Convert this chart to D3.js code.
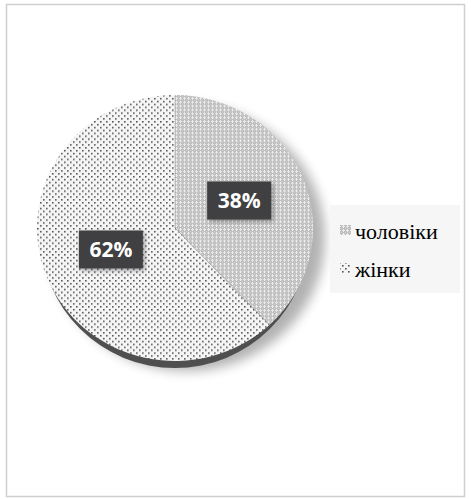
<!DOCTYPE html>
<html><head><meta charset="utf-8">
<script src="https://cdn.jsdelivr.net/npm/d3@7"></script>
<style>html,body{margin:0;padding:0;background:#fff;}svg{display:block;}</style>
</head><body>
<svg id="chart" width="471" height="499"></svg>
<script>
const categories = ["чоловіки", "жінки"];
const values = [38, 62];
const labels = ["38%", "62%"];

const svg = d3.select("#chart");
const W = 471, H = 499;
const cx = 175, cy = 228, rx = 138, ry = 133;

const defs = svg.append("defs");
// men: gray crosshatch/diamond pattern
const p1 = defs.append("pattern").attr("id","pMen").attr("patternUnits","userSpaceOnUse").attr("width",4).attr("height",4);
p1.append("rect").attr("width",4).attr("height",4).attr("fill","#bdbdbd");
p1.append("rect").attr("x",1).attr("y",0).attr("width",1).attr("height",1).attr("fill","#f2f2f2");
p1.append("rect").attr("x",0).attr("y",1).attr("width",3).attr("height",1).attr("fill","#e8e8e8");
p1.append("rect").attr("x",1).attr("y",2).attr("width",1).attr("height",1).attr("fill","#f2f2f2");
p1.append("rect").attr("x",3).attr("y",3).attr("width",1).attr("height",1).attr("fill","#d4d4d4");
// women: white with dots
const p2 = defs.append("pattern").attr("id","pWomen").attr("patternUnits","userSpaceOnUse").attr("width",6).attr("height",6);
p2.append("rect").attr("width",6).attr("height",6).attr("fill","#f5f5f5");
p2.append("rect").attr("x",0).attr("y",0).attr("width",1.6).attr("height",1.6).attr("fill","#555");
p2.append("rect").attr("x",3).attr("y",3).attr("width",1.6).attr("height",1.6).attr("fill","#555");
const f = defs.append("filter").attr("id","shadow").attr("x","-20%").attr("y","-20%").attr("width","150%").attr("height","150%");
f.append("feGaussianBlur").attr("in","SourceAlpha").attr("stdDeviation",6);
const lf = defs.append("filter").attr("id","lshadow").attr("x","-20%").attr("y","-20%").attr("width","150%").attr("height","150%");
lf.append("feDropShadow").attr("dx",2).attr("dy",2).attr("stdDeviation",2).attr("flood-color","#000").attr("flood-opacity",0.35);

// frame
svg.append("rect").attr("x",6.5).attr("y",4.5).attr("width",W-13).attr("height",H-7)
  .attr("fill","#fff").attr("stroke","#cfcfcf").attr("stroke-width",1.5);

const pie = d3.pie().sort(null).value(d => d)(values);
const arc = d3.arc().innerRadius(0).outerRadius(rx);
const labelArc = d3.arc().innerRadius(rx*0.5).outerRadius(rx*0.5);
const fills = ["url(#pMen)", "url(#pWomen)"];

// soft shadow
svg.append("ellipse").attr("cx",cx+12).attr("cy",cy+10).attr("rx",rx).attr("ry",ry)
  .attr("fill","#000").attr("opacity",0.3).attr("filter","url(#shadow)");
// 3D rim
svg.append("ellipse").attr("cx",cx).attr("cy",cy+7).attr("rx",rx-4).attr("ry",ry)
  .attr("fill","#4f4f4f");

const g = svg.append("g").attr("transform",`translate(${cx},${cy}) scale(1,${ry/rx})`);
g.selectAll("path.slice").data(pie).enter().append("path")
  .attr("class","slice").attr("d",arc).attr("fill",(d,i)=>fills[i]);
g.selectAll("path.edge").data(pie).enter().append("path")
  .attr("d",d=>{const a=d.startAngle;return `M0,0L${Math.sin(a)*rx},${-Math.cos(a)*rx}`;})
  .attr("stroke","#9a9a9a").attr("stroke-width",1).attr("stroke-dasharray","1,1").attr("fill","none");

// labels
const lg = svg.append("g");
pie.forEach((d,i)=>{
  const [lx,ly0] = labelArc.centroid(d);
  const x = cx + lx, y = cy + ly0*ry/rx - 3;
  const gg = lg.append("g").attr("transform",`translate(${x},${y})`);
  gg.append("rect").attr("x",-32).attr("y",-19).attr("width",64).attr("height",38)
    .attr("fill","#404142").attr("filter","url(#lshadow)");
  gg.append("text").attr("text-anchor","middle").attr("dy","0.36em")
    .attr("font-family","'Open Sans', sans-serif").attr("font-weight","bold").attr("font-size",21)
    .attr("fill","#fff").text(labels[i]);
});

// legend
const leg = svg.append("g").attr("transform","translate(330,205)");
leg.append("rect").attr("width",130).attr("height",88).attr("fill","#f6f6f6");
categories.forEach((c,i)=>{
  const y = 30 + i*38;
  leg.append("rect").attr("x",10).attr("y",y-10).attr("width",11).attr("height",10).attr("fill",fills[i]);
  leg.append("text").attr("x",25).attr("y",y+4)
    .attr("font-family","'Liberation Serif', 'DejaVu Serif', serif").attr("font-size",22).attr("fill","#000").text(c);
});
</script>
</body></html>
